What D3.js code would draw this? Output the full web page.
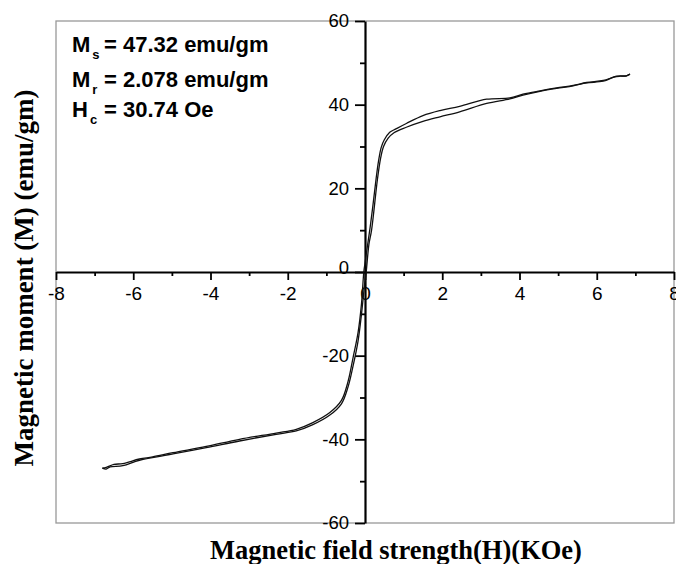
<!DOCTYPE html>
<html><head><meta charset="utf-8">
<script src="https://cdn.jsdelivr.net/npm/d3@7"></script>
<style>body{margin:0;background:#fff}</style>
</head><body>
<svg id="c" width="676" height="564"></svg>
<script>
// Descending branch (from +H max to -H max)
const hDesc = [6.86, 6.77, 6.6, 6.45, 6.17, 5.74, 5.39, 4.96, 4.53, 4.09, 3.75, 3.15, 2.45, 1.94, 1.5, 1.07, 0.8, 0.64, 0.5, 0.42, 0.35, 0.29, 0.2, 0.13, 0.06, 0, -0.031, -0.09, -0.18, -0.31, -0.44, -0.61, -0.91, -1.35, -1.78, -2.3, -3.25, -4.11, -4.97, -5.5, -5.84, -6.27, -6.5, -6.7, -6.8];
const mDesc = [47.3, 46.9, 46.8, 46.6, 45.8, 45.3, 44.6, 44.0, 43.3, 42.5, 41.6, 41.3, 39.6, 38.6, 37.4, 35.5, 34.2, 33.4, 31.6, 29.8, 26.5, 22.5, 15.5, 10.5, 6, 2.08, 0, -7.5, -14.5, -20.5, -26.2, -30.7, -33.6, -36, -37.6, -38.5, -40, -41.7, -43.2, -44.2, -44.7, -45.8, -46.0, -46.7, -46.9];
// Ascending branch (from -H max to +H max)
const hAsc = [-6.8, -6.7, -6.6, -6.27, -5.84, -4.97, -4.11, -3.25, -2.3, -1.78, -1.35, -0.91, -0.61, -0.44, -0.31, -0.18, -0.09, 0, 0.031, 0.1, 0.17, 0.32, 0.4, 0.48, 0.6, 0.75, 1.07, 1.5, 1.94, 2.45, 3.15, 3.75, 4.09, 4.53, 4.96, 5.39, 5.74, 6.17, 6.51, 6.77, 6.86];
const mAsc = [-46.9, -47.1, -46.6, -46.3, -45.0, -43.5, -42.0, -40.4, -38.8, -38.0, -36.5, -34.2, -31.5, -27.5, -22.5, -16.5, -10, -2.08, 0, 6.5, 10, 22, 27, 30, 32, 33.3, 34.6, 36, 37.1, 38.3, 40.3, 41.4, 42.3, 43.2, 43.9, 44.5, 45.2, 45.6, 46.8, 46.9, 47.3];

const xMajor = [-8, -6, -4, -2, 0, 2, 4, 6, 8];
const xMinor = [-7, -5, -3, -1, 1, 3, 5, 7];
const yMajor = [-60, -40, -20, 0, 20, 40, 60];
const yMinor = [-50, -30, -10, 10, 30, 50];

const annotations = [
  {main: "M", sub: "s", rest: "= 47.32 emu/gm"},
  {main: "M", sub: "r", rest: "= 2.078 emu/gm"},
  {main: "H", sub: "c", rest: "= 30.74 Oe"}
];
const xTitle = "Magnetic field strength(H)(KOe)";
const yTitle = "Magnetic moment (M) (emu/gm)";

const svg = d3.select("#c");
const L = 56, R = 674, T = 21, B = 523;
const x = d3.scaleLinear().domain([-8, 8]).range([L, R]);
const y = d3.scaleLinear().domain([-60, 60]).range([B, T]);
const fmt = d => String(d);

// frame
svg.append("rect").attr("x", L).attr("y", T).attr("width", R - L).attr("height", B - T)
  .attr("fill", "none").attr("stroke", "#999").attr("stroke-width", 1.3);

// x axis at y=0
const gx = svg.append("g").attr("transform", `translate(0,${y(0)})`);
gx.call(d3.axisBottom(x).tickValues(xMinor).tickSize(4).tickFormat(""));
gx.call(g => g.selectAll(".domain").remove());
const gx2 = svg.append("g").attr("transform", `translate(0,${y(0)})`)
  .call(d3.axisBottom(x).tickValues(xMajor).tickSize(8).tickSizeOuter(0).tickFormat(fmt).tickPadding(7));
gx2.selectAll("text").attr("font-family", "Liberation Sans, Arial, sans-serif").attr("font-size", 19).attr("fill", "#000");
gx2.select(".domain").attr("stroke", "#000").attr("stroke-width", 2.2);

// y axis at x=0
const gy = svg.append("g").attr("transform", `translate(${x(0)},0)`);
gy.call(d3.axisLeft(y).tickValues(yMinor).tickSize(5).tickFormat(""));
gy.call(g => g.selectAll(".domain").remove());
const gy2 = svg.append("g").attr("transform", `translate(${x(0)},0)`)
  .call(d3.axisLeft(y).tickValues(yMajor).tickSize(10).tickSizeOuter(0).tickFormat(fmt).tickPadding(6));
gy2.selectAll("text").attr("font-family", "Liberation Sans, Arial, sans-serif").attr("font-size", 18.5).attr("fill", "#000");
gy2.select(".domain").attr("stroke", "#000").attr("stroke-width", 2.2);
gy2.selectAll(".tick").filter(d => d === 0).select("text").attr("dy", "0.1em");
svg.selectAll("g .tick line").attr("stroke", "#000").attr("stroke-width", 1.8);

// curves
const line = d3.line().x(d => x(d[0])).y(d => y(d[1])).curve(d3.curveCatmullRom.alpha(0.5));
const desc = hDesc.map((h, i) => [h, mDesc[i]]);
const asc = hAsc.map((h, i) => [h, mAsc[i]]);
[desc, asc].forEach(pts => {
  svg.append("path").attr("d", line(pts)).attr("fill", "none")
    .attr("stroke", "#111").attr("stroke-width", 1.3);
});

// annotation
const baseY = [52, 87, 117];
annotations.forEach((a, i) => {
  const t = svg.append("text").attr("y", baseY[i])
    .attr("font-family", "Liberation Sans, Arial, sans-serif").attr("font-weight", "bold")
    .attr("font-size", 22).attr("fill", "#000");
  t.append("tspan").attr("x", 72).text(a.main);
  t.append("tspan").attr("dy", 7).attr("font-size", 13).attr("dx", 2).text(a.sub);
  t.append("tspan").attr("x", 104).attr("dy", -7).text(a.rest);
});

// titles
svg.append("text").attr("x", 396).attr("y", 559).attr("text-anchor", "middle")
  .attr("font-family", "Liberation Serif, Times New Roman, serif").attr("font-weight", "bold")
  .attr("font-size", 26.5).attr("fill", "#000").text(xTitle);
svg.append("text").attr("transform", "translate(33,278) rotate(-90)").attr("text-anchor", "middle")
  .attr("font-family", "Liberation Serif, Times New Roman, serif").attr("font-weight", "bold")
  .attr("font-size", 27).attr("fill", "#000").text(yTitle);
</script>
</body></html>
